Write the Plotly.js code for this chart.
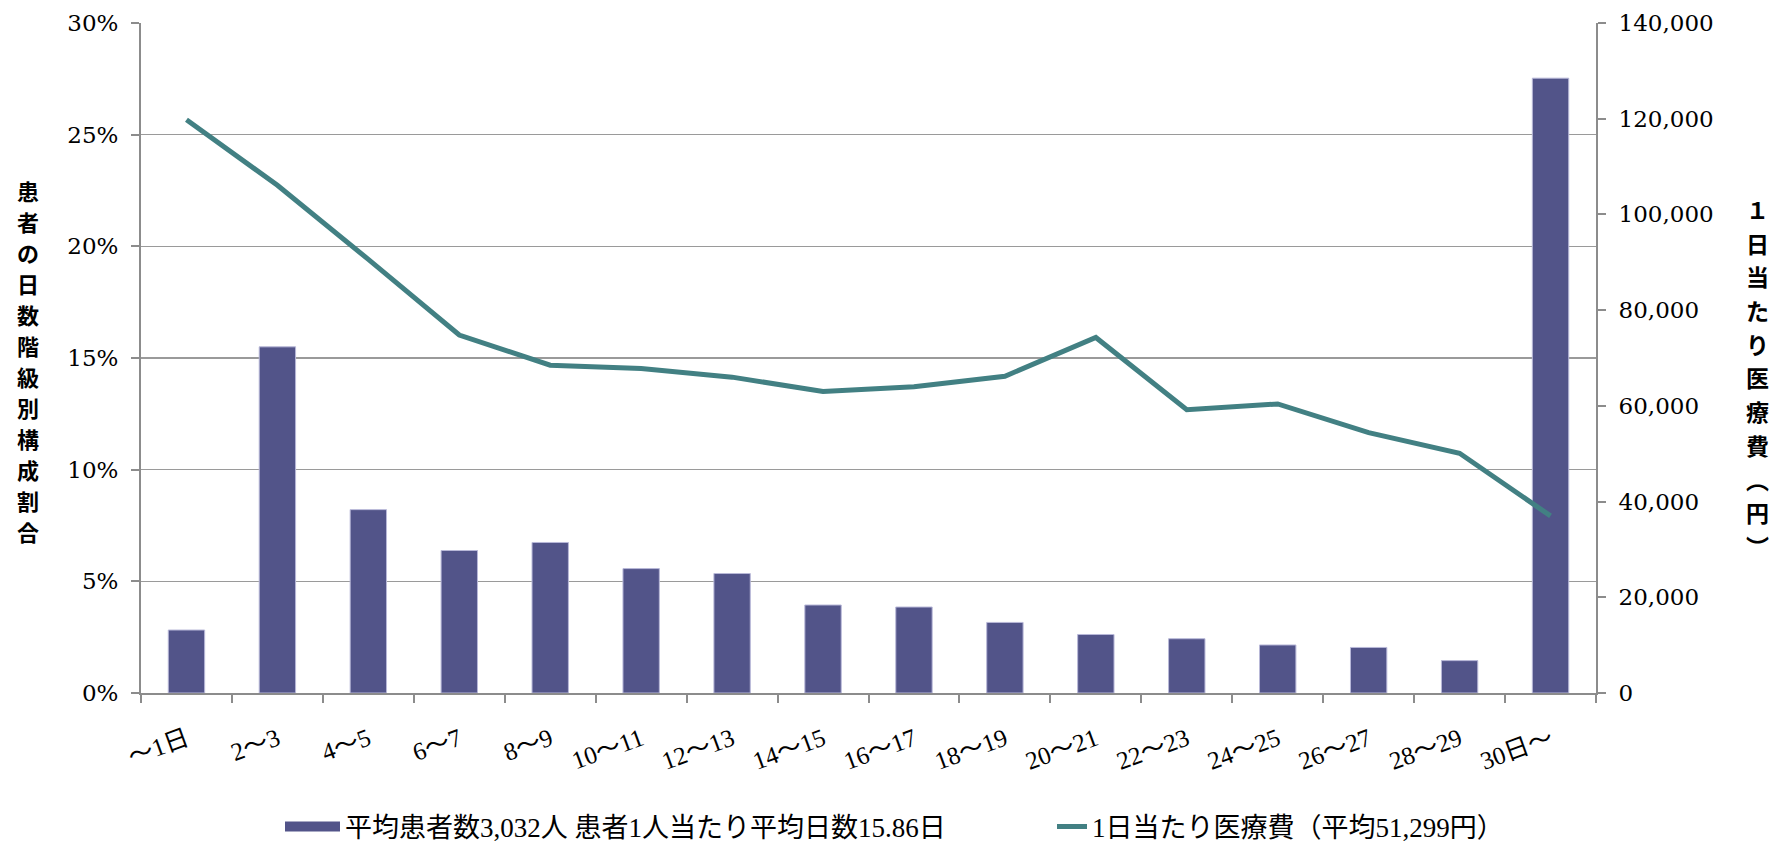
<!DOCTYPE html>
<html>
<head>
<meta charset="utf-8">
<script src="https://cdn.plot.ly/plotly-3.0.1.min.js"></script>
<style>html,body{margin:0;padding:0;background:#fff;}#chart{width:1771px;height:845px;}</style>
</head>
<body>
<div id="chart"></div>
<script>
const categories = ["～1日","2～3","4～5","6～7","8～9","10～11","12～13","14～15","16～17","18～19","20～21","22～23","24～25","26～27","28～29","30日～"];
const shareValues = [0.0282,0.155,0.0821,0.0638,0.0674,0.0557,0.0535,0.0394,0.0385,0.0316,0.0262,0.0243,0.0215,0.0204,0.0145,0.2753];
const costValues = [119800,106100,90600,74800,68500,67800,66000,63000,64000,66200,74300,59200,60400,54400,50100,37000];
const barName = "平均患者数3,032人 患者1人当たり平均日数15.86日";
const lineName = "1日当たり医療費（平均51,299円）";
const leftTitle = ["患","者","の","日","数","階","級","別","構","成","割","合"];
const rightTitle = ["１","日","当","た","り","医","療","費","︵","円","︶"];

const serif = "DejaVu Serif, Liberation Serif, serif";
const jpSerif = "Liberation Serif, Noto Sans CJK JP, serif";
const barColor = "#525489";
const lineColor = "#428083";

const data = [
  {
    type: "bar", x: categories, y: shareValues, name: barName,
    marker: {color: barColor, line: {color: "#b8b8d8", width: 1}},
    yaxis: "y", hoverinfo: "skip", showlegend: false
  },
  {
    type: "scatter", mode: "lines", x: [null], y: [null], name: barName,
    line: {color: barColor, width: 17}, legend: "legend", hoverinfo: "skip"
  },
  {
    type: "scatter", mode: "lines", x: categories, y: costValues, name: lineName,
    line: {color: lineColor, width: 5}, yaxis: "y2", hoverinfo: "skip",
    legend: "legend2"
  }
];

const axisGray = "#8c8c8c";
const plotL = 141, plotR = 1596, plotT = 23, plotB = 693;
const pw = plotR - plotL, ph = plotB - plotT;
const px = v => (v - plotL) / pw;
const py = v => (plotB - v) / ph;

const annotations = [];
leftTitle.forEach((ch, i) => {
  annotations.push({
    xref: "paper", yref: "paper", x: px(28), y: py(190 + i * 31),
    xanchor: "center", yanchor: "middle", text: ch, showarrow: false,
    borderpad: 0,
    font: {family: "Noto Sans CJK JP, sans-serif", size: 22, color: "#000", weight: 700}
  });
});
rightTitle.forEach((ch, i) => {
  annotations.push({
    xref: "paper", yref: "paper", x: px(1757), y: py(209 + i * 33.7),
    xanchor: "center", yanchor: "middle", text: ch, showarrow: false,
    borderpad: 0,
    font: {family: "Noto Sans CJK JP, sans-serif", size: 23, color: "#000", weight: 700}
  });
});

const legendFont = {family: jpSerif, size: 27, color: "#000"};
const layout = {
  width: 1771, height: 845,
  margin: {l: plotL, r: 1771 - plotR, t: plotT, b: 845 - plotB, autoexpand: false},
  paper_bgcolor: "#ffffff", plot_bgcolor: "#ffffff",
  showlegend: true,
  bargap: 0.6,
  xaxis: {
    type: "category",
    tickangle: -20,
    tickson: "boundaries",
    ticks: "outside", ticklen: 8, tickcolor: axisGray, tickwidth: 2,
    showline: true, linecolor: axisGray, linewidth: 2,
    showgrid: false,
    tickfont: {family: jpSerif, size: 25, color: "#000"},
    ticklabelstandoff: 20
  },
  yaxis: {
    range: [0, 0.30], dtick: 0.05, tickformat: ".0%",
    showline: true, linecolor: axisGray, linewidth: 2,
    ticks: "outside", ticklen: 8, tickcolor: axisGray, tickwidth: 2,
    showgrid: true, gridcolor: "#9a9a9a", gridwidth: 1.5,
    zeroline: false,
    tickfont: {family: serif, size: 23, color: "#000"},
    ticklabelstandoff: 8
  },
  yaxis2: {
    overlaying: "y", side: "right",
    range: [0, 140000], dtick: 20000, tickformat: ",",
    showline: true, linecolor: axisGray, linewidth: 2,
    ticks: "outside", ticklen: 8, tickcolor: axisGray, tickwidth: 2,
    showgrid: false, zeroline: false,
    tickfont: {family: serif, size: 23, color: "#000"},
    ticklabelstandoff: 8
  },
  legend: {
    orientation: "h", x: px(280), xanchor: "left",
    y: py(827), yanchor: "middle",
    font: legendFont, itemwidth: 55, bgcolor: "rgba(0,0,0,0)"
  },
  legend2: {
    orientation: "h", x: px(1052), xanchor: "left",
    y: py(827), yanchor: "middle",
    font: legendFont, bgcolor: "rgba(0,0,0,0)"
  },
  annotations: annotations
};

Plotly.newPlot("chart", data, layout, {displayModeBar: false, staticPlot: true});
</script>
</body>
</html>
